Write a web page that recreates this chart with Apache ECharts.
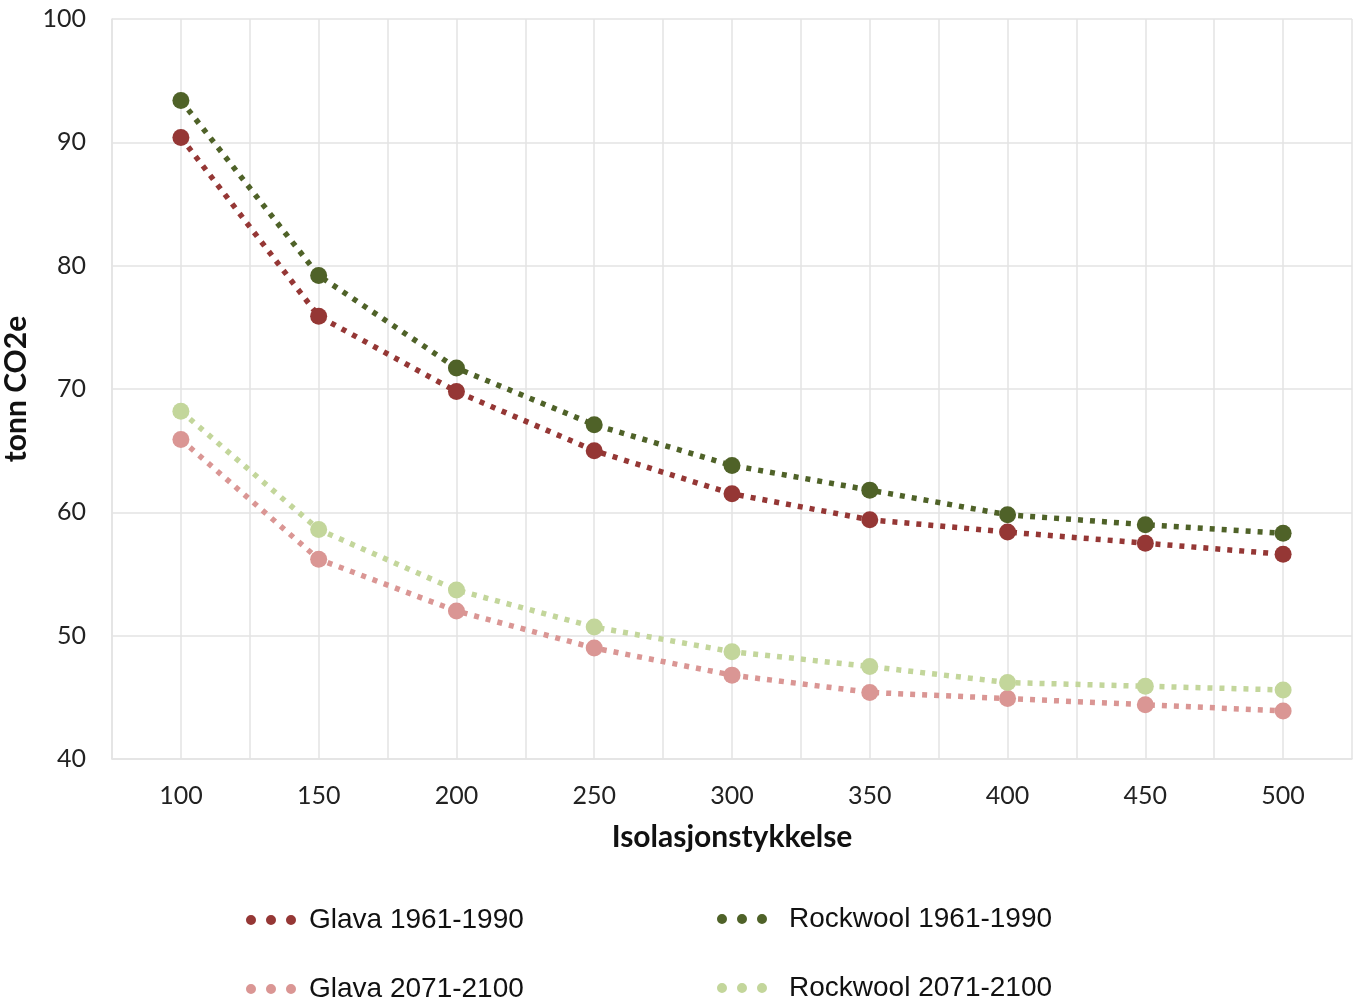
<!DOCTYPE html>
<html>
<head>
<meta charset="utf-8">
<script src="https://cdn.jsdelivr.net/npm/echarts@6/dist/echarts.min.js"></script>
<style>
  html, body { margin: 0; padding: 0; background: #fff; }
  #chart { width: 1360px; height: 1005px; }
</style>
</head>
<body>
<div id="chart"></div>
<script>
// Insulation thickness (mm) on the x axis
const thickness = [100, 150, 200, 250, 300, 350, 400, 450, 500];

// Emissions, tonn CO2e
const glava1961 = [90.4, 75.9, 69.8, 65.0, 61.5, 59.4, 58.4, 57.5, 56.6];
const rockwool1961 = [93.4, 79.2, 71.7, 67.1, 63.8, 61.8, 59.8, 59.0, 58.3];
const glava2071 = [65.9, 56.2, 52.0, 49.0, 46.8, 45.4, 44.9, 44.4, 43.9];
const rockwool2071 = [68.2, 58.6, 53.7, 50.7, 48.7, 47.5, 46.2, 45.9, 45.6];

const seriesNames = ['Glava 1961-1990', 'Rockwool 1961-1990', 'Glava 2071-2100', 'Rockwool 2071-2100'];
const yTicks = [40, 50, 60, 70, 80, 90, 100];

const colors = {
  'Glava 1961-1990': '#953735',
  'Rockwool 1961-1990': '#4f6228',
  'Glava 2071-2100': '#da9694',
  'Rockwool 2071-2100': '#c3d69b'
};

const valuesByName = {
  'Glava 1961-1990': glava1961,
  'Rockwool 1961-1990': rockwool1961,
  'Glava 2071-2100': glava2071,
  'Rockwool 2071-2100': rockwool2071
};

const step = thickness[1] - thickness[0];
const xMin = thickness[0] - step / 2;
const xMax = thickness[thickness.length - 1] + step / 2;

const threeDots = 'path://M0,5a5,5 0 1,0 10,0a5,5 0 1,0 -10,0Z M20,5a5,5 0 1,0 10,0a5,5 0 1,0 -10,0Z M40,5a5,5 0 1,0 10,0a5,5 0 1,0 -10,0Z';

const gridColor = '#e3e3e3';
const labelFont = 'Lato, "Open Sans", sans-serif';

function makeSeries(name) {
  return {
    name: name,
    type: 'line',
    data: thickness.map((x, i) => [x, valuesByName[name][i]]),
    symbol: 'circle',
    symbolSize: 17,
    itemStyle: { color: colors[name] },
    lineStyle: { color: colors[name], width: 5.5, type: [5, 7], cap: 'butt' },
    emphasis: { disabled: true },
    z: 3
  };
}

// one legend block per entry, laid out as a 2x2 table under the plot
function makeLegend(name, left, top, textGap) {
  return {
    data: [name],
    left: left,
    top: top,
    itemWidth: 50,
    itemHeight: 10,
    icon: threeDots,
    selectedMode: false,
    textStyle: {
      fontFamily: '"Liberation Sans", Arial, sans-serif',
      fontSize: 28,
      color: '#111',
      padding: [0, 0, 0, textGap]
    }
  };
}

const chart = echarts.init(document.getElementById('chart'), null, { renderer: 'canvas' });

chart.setOption({
  animation: false,
  backgroundColor: '#fff',
  grid: { left: 112, right: 8, top: 19, bottom: 246, containLabel: false, outerBoundsMode: 'none' },
  legend: [
    makeLegend('Glava 1961-1990', 241, 901, 8),
    makeLegend('Rockwool 1961-1990', 712, 900, 17),
    makeLegend('Glava 2071-2100', 241, 970, 8),
    makeLegend('Rockwool 2071-2100', 712, 969, 17)
  ],
  xAxis: {
    type: 'value',
    min: xMin,
    max: xMax,
    interval: step / 2,
    name: 'Isolasjonstykkelse',
    nameLocation: 'middle',
    nameGap: 63,
    nameTextStyle: { fontFamily: labelFont, fontWeight: 'bold', fontSize: 30, color: '#111' },
    axisLine: { show: true, lineStyle: { color: gridColor, width: 1.5 } },
    axisTick: { show: false },
    axisLabel: {
      margin: 24,
      fontFamily: labelFont,
      fontSize: 25,
      color: '#222',
      formatter: v => (thickness.indexOf(v) >= 0 ? String(v) : '')
    },
    splitLine: { show: true, lineStyle: { color: gridColor, width: 1.5 } }
  },
  yAxis: {
    type: 'value',
    min: yTicks[0],
    max: yTicks[yTicks.length - 1],
    interval: yTicks[1] - yTicks[0],
    name: 'tonn CO2e',
    nameLocation: 'middle',
    nameGap: 76,
    nameRotate: 90,
    nameTextStyle: { fontFamily: labelFont, fontWeight: 'bold', fontSize: 30, color: '#111' },
    axisLine: { show: true, lineStyle: { color: gridColor, width: 1.5 } },
    axisTick: { show: false },
    axisLabel: { margin: 26, fontFamily: labelFont, fontSize: 25, color: '#222' },
    splitLine: { show: true, lineStyle: { color: gridColor, width: 1.5 } }
  },
  series: seriesNames.map(makeSeries)
});
</script>
</body>
</html>
